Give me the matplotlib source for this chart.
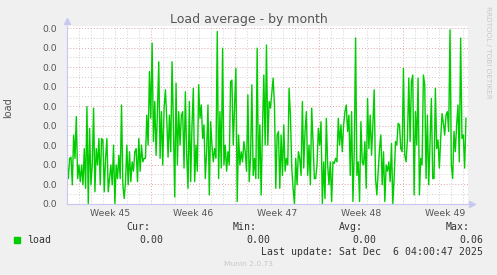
import numpy as np
import matplotlib
matplotlib.use('Agg')
import matplotlib.pyplot as plt

# Load values, in thousandths (0.001 load)
load_milli = [
    10.7, 6.4, 11.6, 11.9, 4.8, 17.6, 11.6, 22.3, 6.4, 9.9, 5.6, 9.9, 4.8, 14.1, 3.9,
    24.9, 0.0, 19.3, 4.8, 9.9, 24.5, 3.0, 14.1, 9.9, 16.7, 4.8, 16.7, 16.3, 3.0, 11.6,
    16.7, 3.0, 6.4, 9.9, 4.8, 15.0, 0.0, 9.9, 6.4, 12.4, 6.4, 25.3, 4.8,
    1.3, 5.6, 15.0, 4.8, 13.3, 5.6, 10.7, 8.3, 13.3, 14.1, 5.6, 16.7, 8.3, 15.0, 10.7,
    11.6, 11.6, 22.7, 15.0, 33.9, 21.9, 41.2, 15.9, 26.2, 12.4, 23.6, 36.4, 11.6, 23.6,
    9.9, 24.5, 29.2, 21.9, 11.9, 22.7, 13.3, 36.4, 20.2, 1.7, 30.9, 9.9, 23.6, 15.0, 22.7,
    23.6, 9.1, 28.7, 12.4, 3.9, 26.2, 5.6, 20.2, 29.6, 5.6, 15.0, 8.3, 30.5, 21.9, 25.3,
    16.7, 20.2, 6.4, 13.3, 25.3, 2.2, 21.0, 15.0, 10.7, 14.1, 11.6, 44.2, 6.4, 23.6, 9.1,
    39.9, 9.9, 15.0, 8.3, 13.3, 9.9, 31.3, 31.7, 15.0, 24.5, 34.7, 0.5, 17.6, 9.9,
    13.3, 10.7, 15.9, 13.3, 8.3, 27.9, 5.6, 11.6, 30.5, 7.2, 11.6, 6.4, 39.9, 6.4, 20.2,
    2.2, 19.3, 33.0, 15.0, 40.7, 15.0, 26.2, 24.5, 28.3, 32.2, 25.3, 3.9, 17.6, 18.5, 3.9,
    17.6, 7.2, 20.2, 8.3, 11.6, 9.9, 29.6, 22.7, 9.1, 3.9, 0.0, 11.6, 4.8, 13.3,
    11.6, 7.2, 26.2, 9.1, 18.5, 23.6, 7.2, 15.0, 4.8, 24.5, 15.9, 6.4, 6.4, 9.9, 19.3,
    15.0, 21.0, 0.0, 10.7, 1.3, 21.9, 9.9, 4.8, 10.7, 0.5, 10.7, 10.3, 11.6, 10.7, 21.9,
    15.0, 20.2, 13.3, 20.2, 23.6, 25.3, 18.5, 22.7, 7.2, 23.6, 0.5, 13.3, 42.5, 7.2,
    10.7, 0.5, 21.0, 10.7, 9.9, 15.9, 3.9, 27.0, 14.1, 22.7, 12.4, 20.2, 29.2, 6.4, 2.2,
    8.3, 14.1, 17.6, 4.8, 13.3, 0.5, 9.9, 8.3, 10.7, 5.6, 15.4, 0.0, 6.4, 15.9, 15.0,
    20.6, 20.2, 14.1, 13.3, 34.7, 12.4, 10.7, 16.7, 32.2, 15.9, 31.3, 33.0, 2.2, 23.6,
    15.0, 32.2, 2.2, 11.6, 9.9, 33.0, 30.5, 6.4, 22.7, 4.8, 15.9, 27.0, 6.4, 6.4, 29.6,
    14.1, 16.3, 9.1, 16.7, 23.1, 20.6, 17.6, 22.7, 23.6, 18.5, 44.6, 9.9, 6.4, 18.5, 13.3,
    20.2, 25.3, 10.7, 42.5, 16.7, 17.6, 9.1, 21.9,
]
load = np.array(load_milli) / 1000.0

# time axis in days from Monday of week 45
days_shown = 33.42
last_sample = 33.25
t = np.linspace(0, last_sample, len(load))

week_labels = ['Week 45', 'Week 46', 'Week 47', 'Week 48', 'Week 49']
week_starts = [7, 14, 21, 28]

legend_heads = ['Cur:', 'Min:', 'Avg:', 'Max:']
legend_vals = ['0.00', '0.00', '0.00', '0.06']

BG = '#F0F0F0'
TXT = '#555555'
AXC = '#C8C8F2'
MAJ = '#E0A8A8'
MIN = '#D0D0D0'

fig = plt.figure(figsize=(4.97, 2.75), dpi=100, facecolor=BG)
ax = fig.add_axes([67 / 497, 71.5 / 275, 401 / 497, 177.5 / 275])
ax.set_facecolor('white')

ytop = 0.045 * 177.5 / 175.2
ax.set_xlim(0, days_shown)
ax.set_ylim(0, ytop)

# grid
dots = (0, (1, 2))
for d in range(1, 34):
    if d in week_starts:
        continue
    ax.axvline(d, color=MIN, lw=0.7, ls=dots, zorder=1)
for d in week_starts:
    ax.axvline(d, color=MAJ, lw=0.7, ls=dots, zorder=1)
yt = np.arange(0, 0.0451, 0.005)
for y in yt[1:]:
    ax.axhline(y, color=MAJ, lw=0.7, ls=dots, zorder=1)
for y in yt[:-1] + 0.0025:
    ax.axhline(y, color=MIN, lw=0.7, ls=dots, zorder=1)

ax.plot(t, load, color='#00CC00', lw=1.0, zorder=3)

# axes and ticks
for s in ['top', 'right']:
    ax.spines[s].set_visible(False)
for s in ['left', 'bottom']:
    ax.spines[s].set_color(AXC)
    ax.spines[s].set_linewidth(0.8)
    ax.spines[s].set_zorder(4)
ax.plot([0], [1.03], marker='^', color=AXC, ms=4, transform=ax.transAxes, clip_on=False)
ax.plot([1.01], [0], marker='>', color=AXC, ms=4, transform=ax.transAxes, clip_on=False)

ax.set_yticks(yt)
ax.set_yticklabels(['%.1f' % v for v in yt])
ax.set_xticks([3.55, 10.55, 17.55, 24.55, 31.55])
ax.set_xticklabels(week_labels)
ax.tick_params(axis='both', length=0, labelsize=6.7, colors=TXT)
ax.tick_params(axis='y', pad=7)
ax.tick_params(axis='x', pad=4)

fig.text(8 / 497, 1 - 108 / 275, 'load', ha='center', va='center', rotation=90,
         fontsize=7, color=TXT)
fig.text(0.5, 1 - 19 / 275, 'Load average - by month', ha='center', va='center',
         fontsize=9, color=TXT)
fig.text(488 / 497, 1 - 52 / 275, 'RRDTOOL / TOBI OETIKER', ha='center', va='center',
         rotation=270, fontsize=5.2, color='#C8C8C8')

# legend block
mono = 'DejaVu Sans Mono'
fig.patches.append(plt.Rectangle((14 / 497, 1 - 243 / 275), 6 / 497, 6 / 275,
                                 transform=fig.transFigure, color='#00CC00'))
fig.text(27 / 497, 1 - 240 / 275, 'load', ha='left', va='center', fontsize=7.1,
         family=mono, color='#333333')
head_x = [150, 257, 363, 470]
val_x = [163, 270, 376, 483]
for hx, h in zip(head_x, legend_heads):
    fig.text(hx / 497, 1 - 227 / 275, h, ha='right', va='center', fontsize=7.1,
             family=mono, color='#333333')
for vx, v in zip(val_x, legend_vals):
    fig.text(vx / 497, 1 - 240 / 275, v, ha='right', va='center', fontsize=7.1,
             family=mono, color='#333333')
fig.text(483 / 497, 1 - 252 / 275, 'Last update: Sat Dec  6 04:00:47 2025', ha='right',
         va='center', fontsize=7.1, family=mono, color='#333333')
fig.text(248 / 497, 1 - 264 / 275, 'Munin 2.0.73', ha='center', va='center',
         fontsize=5.4, color='#C8C8C8')

fig.savefig('out.png', dpi=100, facecolor=BG)
